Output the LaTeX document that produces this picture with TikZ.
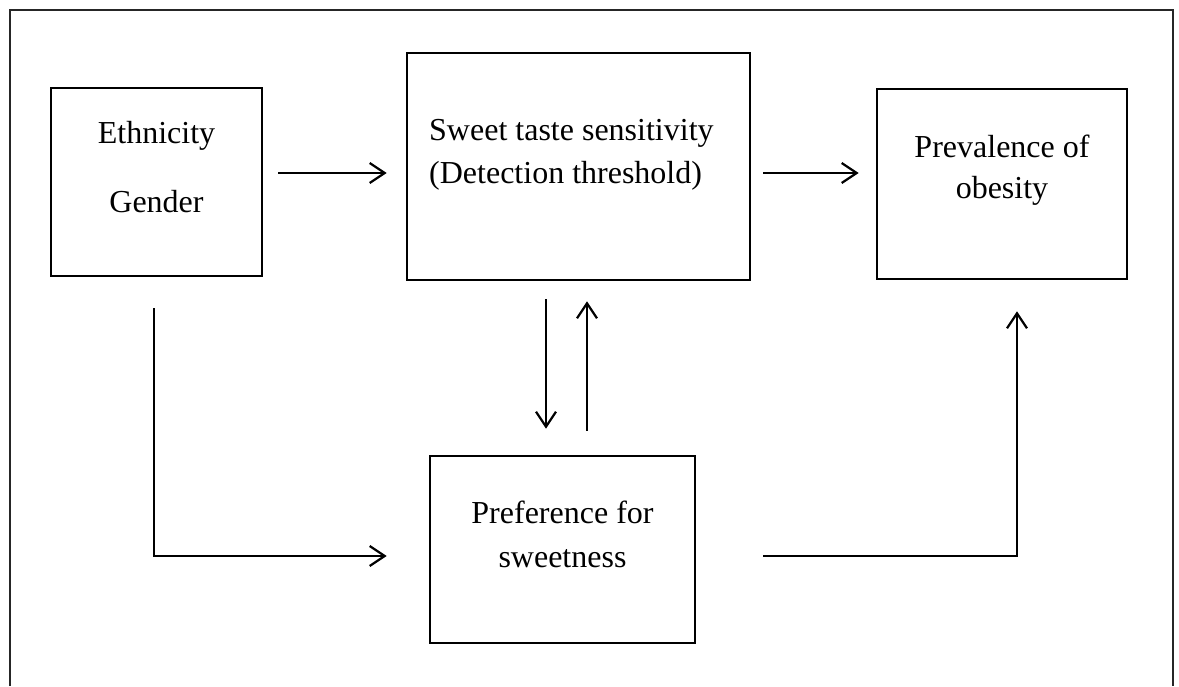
\documentclass[tikz,border=0pt]{standalone}
\usepackage{fontspec}
\setmainfont{Liberation Serif}
\usetikzlibrary{arrows.meta}
\tikzset{
  box/.style={draw, line width=2.6pt, rectangle, inner sep=0pt},
  lbl/.style={inner sep=0pt, anchor=base, font=\fontsize{32pt}{38pt}\selectfont},
  arr/.style={line width=2.2pt, -{Straight Barb[length=15pt,width=20pt,line width=2.2pt]}},
  frame/.style={line width=1.8pt, draw=black!85}
}
\begin{document}
\begin{tikzpicture}[x=1pt,y=-1pt]
\useasboundingbox (0,0) rectangle (1179,686);
\draw[frame] (10,686) -- (10,10) -- (1173,10) -- (1173,686);
% boxes
\node[box, minimum width=211pt, minimum height=188pt] (A) at (156.5,182) {};
\node[box, minimum width=343pt, minimum height=227pt] (B) at (578.5,166.5) {};
\node[box, minimum width=250pt, minimum height=190pt] (C) at (1002,184) {};
\node[box, minimum width=265pt, minimum height=187pt] (D) at (562.5,549.5) {};
% texts
\node[lbl] (a1) at (156.5,143) {Ethnicity};
\node[lbl] (a2) at (156.5,212) {Gender};
\node[lbl, anchor=base west] (b1) at (429,140) {Sweet taste sensitivity};
\node[lbl, anchor=base west] (b2) at (429,183) {(Detection threshold)};
\node[lbl] (c1) at (1002,157) {Prevalence of};
\node[lbl] (c2) at (1002,198) {obesity};
\node[lbl] (d1) at (562.5,523) {Preference for};
\node[lbl] (d2) at (562.5,567) {sweetness};
% connectors
\draw[arr] ([shift={(15,-9)}]A.east) -- ([shift={(-19,6.5)}]B.west);
\draw[arr] ([shift={(12,6.5)}]B.east) -- ([shift={(-17,-11)}]C.west);
\draw[arr] ([shift={(-32.5,18)}]B.south) -- ([shift={(-16.5,-26)}]D.north);
\draw[arr] ([shift={(24.5,-24)}]D.north) -- ([shift={(8.5,20)}]B.south);
\draw[arr] ([shift={(-2.5,31)}]A.south) |- ([shift={(-42,6.5)}]D.west);
\draw[arr] ([shift={(67,6.5)}]D.east) -| ([shift={(15,31)}]C.south);
\end{tikzpicture}
\end{document}
